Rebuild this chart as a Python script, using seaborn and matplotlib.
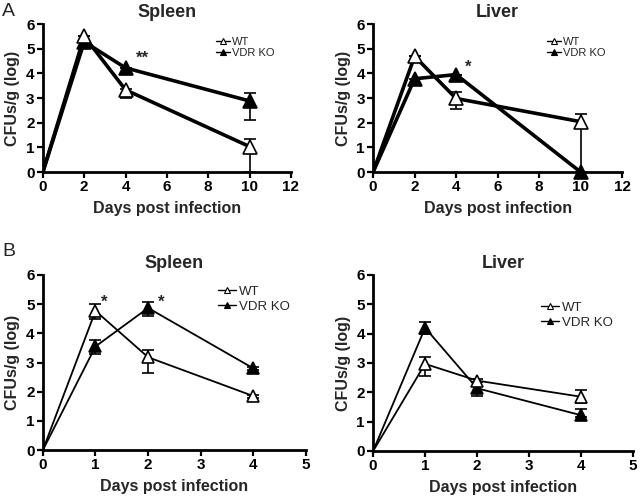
import numpy as np
import pandas as pd
import matplotlib
matplotlib.use("Agg")
import matplotlib.pyplot as plt
import seaborn as sns
from matplotlib.lines import Line2D

sns.set_style("ticks")
plt.rcParams['font.family'] = ['Liberation Sans', 'DejaVu Sans']

# ---- Data ----
days_a = [0, 2, 4, 10]
days_b = [0, 1, 2, 4]

a_spleen_wt = [0, 5.5, 3.33, 1.03]
a_spleen_wt_lo = [0, 0, 0.33, 1.03]
a_spleen_wt_hi = [0, 0, 0.05, 0.32]
a_spleen_ko = [0, 5.28, 4.22, 2.88]
a_spleen_ko_lo = [0, 0, 0, 0.78]
a_spleen_ko_hi = [0, 0, 0, 0.32]

a_liver_wt = [0, 4.69, 2.98, 2.04]
a_liver_wt_lo = [0, 0, 0.42, 2.04]
a_liver_wt_hi = [0, 0, 0.25, 0.33]
a_liver_ko = [0, 3.78, 3.95, 0]
a_liver_ko_lo = [0, 0.2, 0, 0]
a_liver_ko_hi = [0, 0, 0, 0]

b_spleen_wt = [0, 4.77, 3.18, 1.85]
b_spleen_wt_lo = [0, 0.29, 0.53, 0.05]
b_spleen_wt_hi = [0, 0.23, 0.25, 0.05]
b_spleen_ko = [0, 3.55, 4.87, 2.8]
b_spleen_ko_lo = [0, 0.27, 0.27, 0.05]
b_spleen_ko_hi = [0, 0.22, 0.2, 0.05]

b_liver_wt = [0, 2.97, 2.4, 1.85]
b_liver_wt_lo = [0, 0.41, 0.05, 0.22]
b_liver_wt_hi = [0, 0.22, 0.05, 0.23]
b_liver_ko = [0, 4.2, 2.14, 1.22]
b_liver_ko_lo = [0, 0.2, 0.26, 0.05]
b_liver_ko_hi = [0, 0.21, 0.22, 0.2]

series_labels = ["WT", "VDR KO"]
yticks = [0, 1, 2, 3, 4, 5, 6]
xticks_a = [0, 2, 4, 6, 8, 10, 12]
xticks_b = [0, 1, 2, 3, 4, 5]

fig = plt.figure(figsize=(6.4, 5.0), dpi=100)

positions = {
    "a_spleen": [0.067, 0.656, 0.3875, 0.296],
    "a_liver": [0.583, 0.656, 0.389, 0.296],
    "b_spleen": [0.067, 0.100, 0.411, 0.350],
    "b_liver": [0.583, 0.098, 0.406, 0.352],
}


def draw(ax, days, wt, wt_lo, wt_hi, ko, ko_lo, ko_hi, title, xticks, lw, ms,
         leg_xy, leg_fs, leg_hl, leg_sp, stars):
    df = pd.DataFrame({
        "day": list(days) * 2,
        "val": list(wt) + list(ko),
        "grp": [series_labels[0]] * len(days) + [series_labels[1]] * len(days),
    })
    for g in series_labels:
        sns.lineplot(data=df[df.grp == g], x="day", y="val", ax=ax, color="black",
                     lw=lw, legend=False, zorder=2)
    ax.errorbar(days[1:], ko[1:], yerr=[ko_lo[1:], ko_hi[1:]], fmt="none",
                ecolor="black", elinewidth=1.2, capsize=4.5, capthick=1.2, zorder=3)
    ax.errorbar(days[1:], wt[1:], yerr=[wt_lo[1:], wt_hi[1:]], fmt="none",
                ecolor="black", elinewidth=1.2, capsize=4.5, capthick=1.2, zorder=3)
    ax.plot(days[1:], ko[1:], ls="none", marker="^", ms=ms, mfc="black", mec="black",
            mew=1.2, zorder=4, clip_on=False)
    ax.plot(days[1:], wt[1:], ls="none", marker="^", ms=ms, mfc="white", mec="black",
            mew=1.2, zorder=5, clip_on=False)

    ax.set_xlim(xticks[0], xticks[-1])
    ax.set_ylim(0, 6)
    ax.set_xticks(xticks)
    ax.set_yticks(yticks)
    ax.set_xticklabels([str(t) for t in xticks], fontweight="bold", fontsize=11)
    ax.set_yticklabels([str(t) for t in yticks], fontweight="bold", fontsize=11)
    ax.tick_params(direction="out", length=4, width=1.6, pad=2, colors="black")
    for s in ["top", "right"]:
        ax.spines[s].set_visible(False)
    for s in ["left", "bottom"]:
        ax.spines[s].set_linewidth(2)
        ax.spines[s].set_color("black")
    ax.set_xlabel("Days post infection", fontsize=11.5, fontweight="bold", labelpad=5)
    ax.set_ylabel("CFUs/g (log)", fontsize=11.5, fontweight="bold", labelpad=4)
    ax.set_title(title, fontsize=13, fontweight="bold", pad=5)

    lx, ly = leg_xy
    handles = [
        Line2D([], [], color="black", lw=1, marker="^", ms=5, mfc="white", mec="black", mew=0.8),
        Line2D([], [], color="black", lw=1, marker="^", ms=5, mfc="black", mec="black", mew=0.8),
    ]
    ax.legend(handles, series_labels, loc="upper left", bbox_to_anchor=(lx, ly),
              frameon=False, fontsize=leg_fs, handlelength=leg_hl, handletextpad=0.2,
              labelspacing=leg_sp, borderpad=0, borderaxespad=0)
    for (sx, sy, txt) in stars:
        ax.text(sx, sy, txt, fontsize=12, fontweight="bold", ha="center", va="center")


ax1 = fig.add_axes(positions["a_spleen"])
draw(ax1, days_a, a_spleen_wt, a_spleen_wt_lo, a_spleen_wt_hi,
     a_spleen_ko, a_spleen_ko_lo, a_spleen_ko_hi, "Spleen", xticks_a, 2.6, 10,
     (0.70, 0.91), 8, 1.2, 0.05, [(4.8, 4.6, "**")])

ax2 = fig.add_axes(positions["a_liver"])
draw(ax2, days_a, a_liver_wt, a_liver_wt_lo, a_liver_wt_hi,
     a_liver_ko, a_liver_ko_lo, a_liver_ko_hi, "Liver", xticks_a, 2.6, 10,
     (0.70, 0.91), 8, 1.2, 0.05, [(4.6, 4.25, "*")])

ax3 = fig.add_axes(positions["b_spleen"])
draw(ax3, days_b, b_spleen_wt, b_spleen_wt_lo, b_spleen_wt_hi,
     b_spleen_ko, b_spleen_ko_lo, b_spleen_ko_hi, "Spleen", xticks_b, 1.3, 9,
     (0.665, 0.94), 9.5, 1.4, 0.2, [(1.16, 5.05, "*"), (2.24, 5.05, "*")])

ax4 = fig.add_axes(positions["b_liver"])
draw(ax4, days_b, b_liver_wt, b_liver_wt_lo, b_liver_wt_hi,
     b_liver_ko, b_liver_ko_lo, b_liver_ko_hi, "Liver", xticks_b, 1.3, 9,
     (0.645, 0.85), 9.5, 1.4, 0.2, [])

fig.text(0.003, 0.995, "A", fontsize=14, va="top", ha="left")
fig.text(0.003, 0.515, "B", fontsize=14, va="top", ha="left")

fig.savefig("out.png", dpi=100)
